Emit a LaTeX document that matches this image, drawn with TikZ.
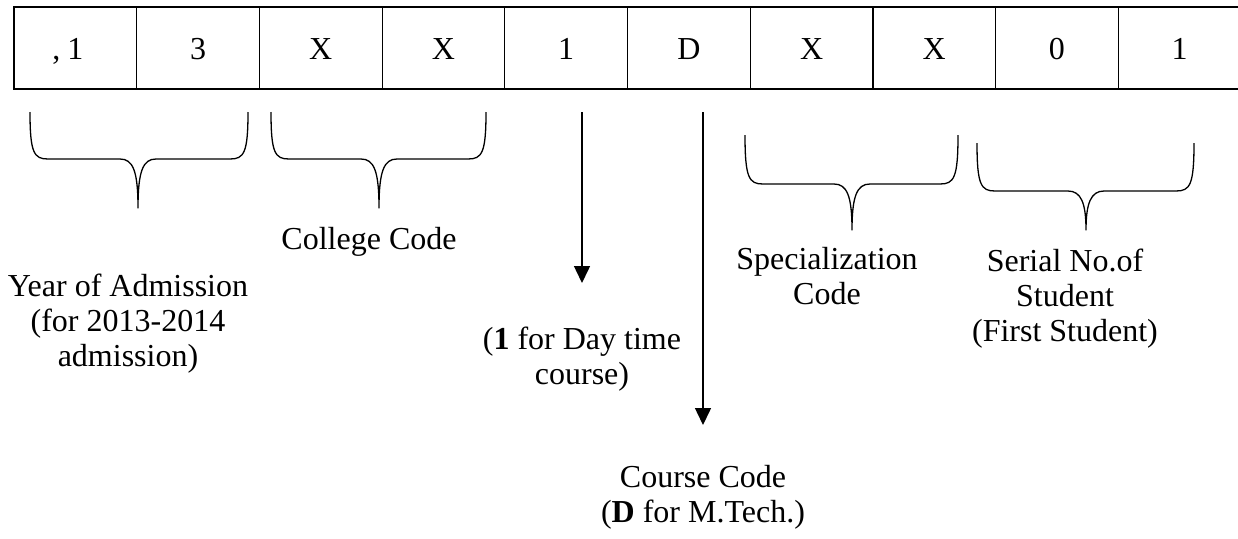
\documentclass[tikz,border=0pt]{standalone}
\usepackage{fontspec}
\setmainfont{Liberation Serif}
\usetikzlibrary{arrows.meta}
\newcommand\mybrace[6]{%
  \draw[brace] (#1,#4) .. controls (#1,#5-6) and (#1+4,#5) .. (#1+18,#5)
    -- (#3-18,#5) .. controls (#3-5,#5) and (#3,#5+12) .. (#3,#6)
    .. controls (#3,#5+12) and (#3+5,#5) .. (#3+18,#5)
    -- (#2-18,#5) .. controls (#2-4,#5) and (#2,#5-6) .. (#2,#4);}
\begin{document}
\begin{tikzpicture}[x=1pt,y=-1pt,
  cellbox/.style={draw, line width=1.2pt, minimum width=122.7pt, minimum height=82pt,
    inner sep=0pt, text height=22pt, text depth=0pt, font=\fontsize{32}{35}\selectfont},
  lbl/.style={font=\fontsize{32}{35}\selectfont, align=center, anchor=north, inner sep=0pt},
  brace/.style={line width=1.3pt, line join=round},
  arr/.style={line width=1.5pt, -{Triangle[width=16pt,length=17pt]}}]
\useasboundingbox (0,0) rectangle (1238,538);
% cells
\node[cellbox] (c1) at (75.35,48) {\llap{,\hspace{7pt}}1};
\node[cellbox] (c2) at (198.05,48) {3};
\node[cellbox] (c3) at (320.75,48) {X};
\node[cellbox] (c4) at (443.45,48) {X};
\node[cellbox] (c5) at (566.15,48) {1};
\node[cellbox] (c6) at (688.85,48) {D};
\node[cellbox] (c7) at (811.55,48) {X};
\node[cellbox] (c8) at (934.25,48) {X};
\node[cellbox] (c9) at (1056.95,48) {0};
\node[cellbox] (c10) at (1179.65,48) {1};
% braces
\mybrace{30}{248}{138}{112}{159}{208}
\mybrace{271}{486}{379}{112}{159}{208}
\mybrace{745}{958}{852}{135}{184}{230}
\mybrace{977}{1194}{1086}{143}{191}{230}
% arrows
\coordinate (a1s) at (582,112);
\coordinate (a1e) at (582,283);
\coordinate (a2s) at (703,112);
\coordinate (a2e) at (703,425);
\draw[arr] (a1s) -- (a1e);
\draw[arr] (a2s) -- (a2e);
% labels
\node[lbl] (lyear) at (128,274) {Year of Admission\\(for 2013-2014\\admission)};
\node[lbl] (lcoll) at (369,227) {College Code};
\node[lbl] (lday) at (582,327) {(\textbf{1} for Day time\\course)};
\node[lbl] (lcourse) at (703,465) {Course Code\\(\textbf{D} for M.Tech.)};
\node[lbl] (lspec) at (827,247) {Specialization\\Code};
\node[lbl] (lser) at (1065,249) {Serial No.of\\Student\\(First Student)};
\end{tikzpicture}
\end{document}
